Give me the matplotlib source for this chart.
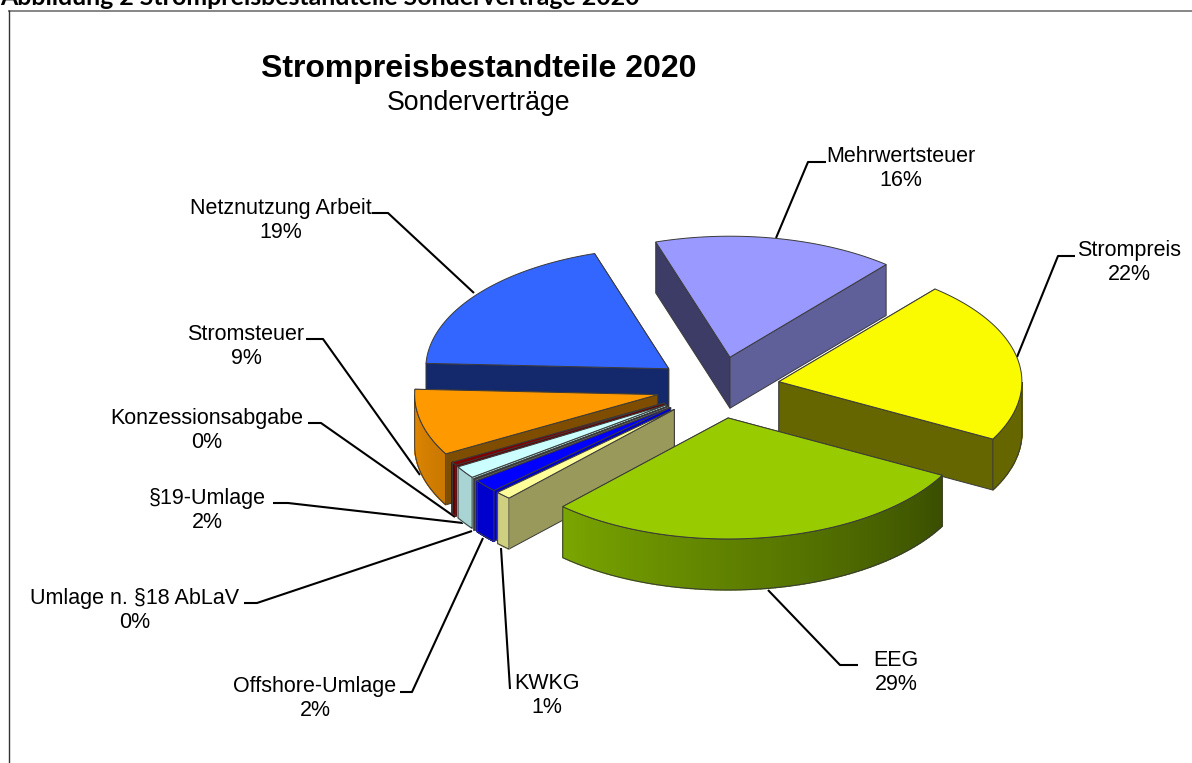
import numpy as np
import matplotlib

matplotlib.use("Agg")
import matplotlib.pyplot as plt
from matplotlib.colors import to_rgb
from matplotlib.patches import Polygon

WIDTH, HEIGHT = 1192, 763

# Slices run clockwise, starting at Strompreis
labels = ["Strompreis", "EEG", "KWKG", "Offshore-Umlage", "Umlage n. §18 AbLaV",
          "§19-Umlage", "Konzessionsabgabe", "Stromsteuer", "Netznutzung Arbeit", "Mehrwertsteuer"]
values = [21.75, 29.05, 1.05, 1.7, 0.1, 1.65, 0.45, 8.85, 19.35, 16.05]

top_colors = ["#FAFA00", "#99CC00", "#FFFF99", "#0000FF", "#808080",
              "#CCFFFF", "#800000", "#FF9900", "#3366FF", "#9999FF"]
wall_light = ["#666600", "#7AA600", "#CFCF80", "#0000CC", "#666666",
              "#A9D4D4", "#660000", "#E58A00", "#14296B", "#5F5F99"]
wall_dark = ["#666600", "#3A4E00", "#CFCF80", "#0000CC", "#666666",
             "#A9D4D4", "#660000", "#C97800", "#14296B", "#5F5F99"]
side_start = ["#666600", "#5F8000", "#99995C", "#0000CC", "#666666",
              "#A9D4D4", "#660000", "#7F4D00", "#14296B", "#3C3C66"]
side_end = ["#666600", "#5F8000", "#99995C", "#0000CC", "#666666",
            "#A9D4D4", "#660000", "#7F4D00", "#14296B", "#5F5F99"]

# Back-to-front drawing order, as indices into the lists above
draw_order = [8, 7, 6, 5, 4, 3, 2, 9, 0, 1]

CX, CY = 718, 387.5
RX, RY = 243, 121
EXPLODE = 62
DEPTH = 51
START_ANGLE = 50
EDGE = "#3A3A3A"


def rim(angle, apex):
    rad = np.radians(angle)
    return np.column_stack((apex[0] + RX * np.cos(rad), apex[1] - RY * np.sin(rad)))


def face(ax, points, color, zorder, edge=True):
    ax.add_patch(Polygon(points, closed=True, facecolor=color, zorder=zorder,
                         edgecolor=EDGE if edge else color, linewidth=0.7 if edge else 1.0))


def draw_slice(ax, a0, a1, index, zorder):
    mid = np.radians((a0 + a1) / 2)
    apex = np.array([CX + EXPLODE * np.cos(mid), CY - EXPLODE * RY / RX * np.sin(mid)])
    down = np.array([0, DEPTH])
    arc = rim(np.linspace(a0, a1, 90), apex)

    # radial faces, the one running further back goes down first so the top hides it
    radial = [(arc[-1], side_end[index]), (arc[0], side_start[index])]
    radial.sort(key=lambda item: item[0][1])
    for edge_point, color in radial:
        face(ax, [apex, edge_point, edge_point + down, apex + down], color, zorder)

    # outer wall, only the part that faces the viewer, shaded across the sweep
    angles = np.linspace(a0, a1, 90)
    front = angles[np.sin(np.radians(angles)) < 0]
    if len(front) > 1:
        c0, c1 = np.array(to_rgb(wall_light[index])), np.array(to_rgb(wall_dark[index]))
        pts = rim(front, apex)
        for i in range(len(front) - 1):
            t = (front[i] - a1) / (a0 - a1)
            quad = [pts[i], pts[i + 1], pts[i + 1] + down, pts[i] + down]
            face(ax, quad, tuple(c0 + (c1 - c0) * t), zorder, edge=False)
        outline = np.vstack((pts, pts[::-1] + down))
        ax.add_patch(Polygon(outline, closed=True, fill=False, edgecolor=EDGE,
                             linewidth=0.7, zorder=zorder))

    face(ax, np.vstack((apex, arc)), top_colors[index], zorder)


# Label centre x, first line baseline y and leader polyline, per slice
label_x = [1129, 896, 547, 315, 135, 207, 207, 246, 281, 901]
label_y = [256, 666, 689, 692, 604, 504, 424, 340, 214, 162]
leaders = [
    [(1075, 256), (1058, 256), (1017, 357)],
    [(858, 665), (840, 665), (768, 590)],
    [(510, 689), (501, 548)],
    [(400, 692), (412, 692), (483, 538)],
    [(244, 603), (257, 603), (472, 531)],
    [(273, 503), (288, 503), (463, 523)],
    [(308, 423), (321, 423), (455, 517)],
    [(306, 339), (323, 339), (420, 475)],
    [(372, 213), (388, 213), (474, 293)],
    [(826, 162), (808, 162), (776, 238)],
]

plt.rcParams["font.family"] = ["Liberation Sans", "DejaVu Sans"]

fig = plt.figure(figsize=(WIDTH / 100, HEIGHT / 100), dpi=100)
ax = fig.add_axes([0, 0, 1, 1])
ax.set_xlim(0, WIDTH)
ax.set_ylim(HEIGHT, 0)
ax.axis("off")

ax.plot([8, 1192], [10.5, 10.5], color="#666666", lw=1.1, solid_capstyle="butt")
ax.plot([8.5, 8.5], [10, 763], color="#333333", lw=1.0, solid_capstyle="butt")
ax.text(0, 5, "Abbildung 2 Strompreisbestandteile Sonderverträge 2020", fontsize=17.9,
        family="Lato", fontweight="bold", ha="left", va="baseline")

ax.text(479, 77, "Strompreisbestandteile 2020", fontsize=23, fontweight="bold",
        ha="center", va="baseline")
ax.text(478, 110, "Sonderverträge", fontsize=19.2, ha="center", va="baseline")

edges = START_ANGLE - np.cumsum([0] + values) * 360 / sum(values)
for zorder, i in enumerate(draw_order, start=3):
    draw_slice(ax, edges[i], edges[i + 1], i, zorder)

for i, name in enumerate(labels):
    xs, ys = zip(*leaders[i])
    ax.plot(xs, ys, color="black", lw=1.5, zorder=2, solid_capstyle="butt")
    ax.text(label_x[i], label_y[i], name, fontsize=15.5, ha="center", va="baseline", zorder=20)
    ax.text(label_x[i], label_y[i] + 24, f"{round(values[i])}%", fontsize=15.5,
            ha="center", va="baseline", zorder=20)

fig.savefig("out.png", dpi=100)
plt.close(fig)
